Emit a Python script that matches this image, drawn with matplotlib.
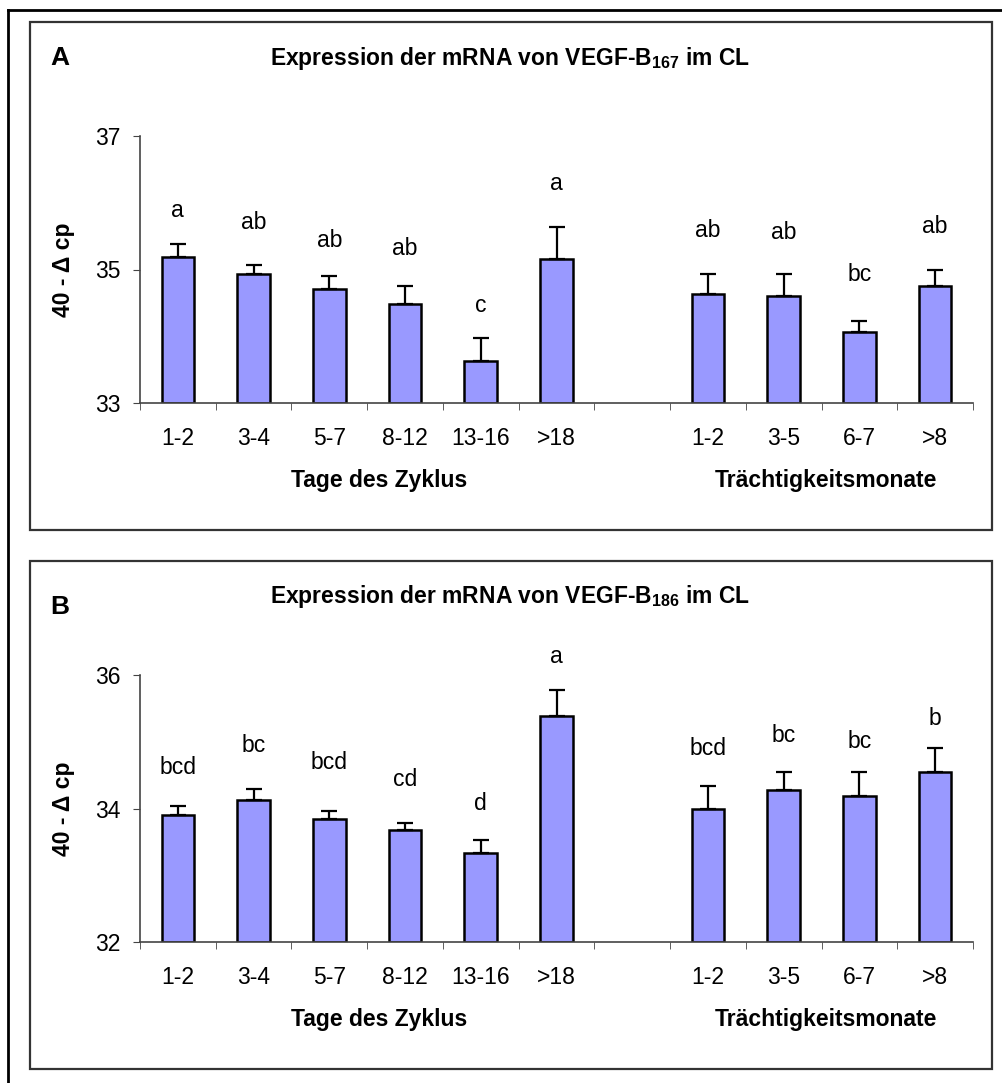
import numpy as np
import matplotlib
matplotlib.use("Agg")
import matplotlib.pyplot as plt
from matplotlib.lines import Line2D
from matplotlib.patches import Rectangle

plt.rcParams['font.family'] = ['Liberation Sans', 'DejaVu Sans']
plt.rcParams['mathtext.fontset'] = 'custom'
plt.rcParams['mathtext.rm'] = 'Liberation Sans'
plt.rcParams['mathtext.bf'] = 'Liberation Sans:bold'

# categories
cycle_days = ['1-2', '3-4', '5-7', '8-12', '13-16', '>18']
preg_months = ['1-2', '3-5', '6-7', '>8']

# panel A: VEGF-B167
a_cycle_mean = [35.19, 34.93, 34.71, 34.49, 33.63, 35.15]
a_cycle_err = [0.19, 0.13, 0.19, 0.26, 0.35, 0.48]
a_preg_mean = [34.64, 34.61, 34.07, 34.75]
a_preg_err = [0.29, 0.32, 0.16, 0.25]
a_letters = ['a', 'ab', 'ab', 'ab', 'c', 'a', 'ab', 'ab', 'bc', 'ab']
a_letter_y = [35.89, 35.71, 35.43, 35.31, 34.46, 36.29, 35.59, 35.55, 34.93, 35.64]

# panel B: VEGF-B186
b_cycle_mean = [33.90, 34.12, 33.84, 33.68, 33.34, 35.39]
b_cycle_err = [0.13, 0.17, 0.12, 0.10, 0.19, 0.39]
b_preg_mean = [33.99, 34.28, 34.19, 34.54]
b_preg_err = [0.35, 0.26, 0.35, 0.36]
b_letters = ['bcd', 'bc', 'bcd', 'cd', 'd', 'a', 'bcd', 'bc', 'bc', 'b']
b_letter_y = [34.61, 34.94, 34.69, 34.44, 34.08, 36.27, 34.90, 35.09, 35.00, 35.35]

W, H = 1003, 1083
fig = plt.figure(figsize=(W / 100, H / 100), dpi=100)

def px_axes(left, top, right, bottom):
    return fig.add_axes([left / W, 1 - bottom / H, (right - left) / W, (bottom - top) / H])

# frames
fig.add_artist(Line2D([8 / W, 8 / W], [0, 1 - 10 / H], color='black', lw=2, transform=fig.transFigure))
fig.add_artist(Line2D([8 / W, 1], [1 - 10 / H, 1 - 10 / H], color='black', lw=2, transform=fig.transFigure))
for top, bottom in [(22, 530), (561, 1069)]:
    fig.add_artist(Rectangle((30 / W, 1 - bottom / H), (992 - 30) / W, (bottom - top) / H,
                             transform=fig.transFigure, fill=False, ec='#333333', lw=1.6))

fs = 16.5
pos_cycle = np.arange(len(cycle_days))
pos_preg = np.arange(len(preg_months)) + len(cycle_days) + 1


def draw_panel(ax, cyc_m, cyc_e, pr_m, pr_e, letters, letter_y, ymin, ymax):
    pos = np.concatenate([pos_cycle, pos_preg])
    means = np.array(cyc_m + pr_m)
    errs = np.array(cyc_e + pr_e)
    ax.bar(pos, means - ymin, bottom=ymin, width=0.43, color='#9999FF', edgecolor='black', lw=1.8, zorder=2)
    ax.errorbar(pos, means, yerr=[np.zeros_like(errs), errs], fmt='none', ecolor='black',
                elinewidth=1.6, capsize=6, capthick=1.6, zorder=3)
    for x, t, y in zip(pos, letters, letter_y):
        ax.text(x, y, t, ha='center', va='center', fontsize=fs)
    ax.set_xlim(-0.5, 10.5)
    ax.set_ylim(ymin, ymax)
    ticks = [ymin, (ymin + ymax) / 2, ymax]
    ax.set_yticks(ticks)
    ax.set_yticklabels([str(int(v)) for v in ticks], fontsize=fs)
    ax.set_xticks(pos, cycle_days + preg_months, fontsize=fs)
    ax.set_xticks(np.arange(-0.5, 11, 1), minor=True)
    ax.tick_params(axis='x', which='major', length=0, pad=17)
    ax.tick_params(axis='x', which='minor', length=5, direction='out', color='#444444')
    ax.tick_params(axis='y', length=5, direction='out', pad=9, color='#444444')
    for s in ['top', 'right']:
        ax.spines[s].set_visible(False)
    for s in ['left', 'bottom']:
        ax.spines[s].set_color('#444444')
        ax.spines[s].set_linewidth(1.2)
    ax.set_ylabel('40 - \u0394 cp', fontsize=fs, fontweight='bold')
    ax.yaxis.set_label_coords(-0.078, 0.5)
    ax.text(2.66, -0.29, 'Tage des Zyklus', transform=ax.get_xaxis_transform(),
            ha='center', va='center', fontsize=fs, fontweight='bold')
    ax.text(8.56, -0.29, 'Trächtigkeitsmonate', transform=ax.get_xaxis_transform(),
            ha='center', va='center', fontsize=fs, fontweight='bold')


axA = px_axes(140, 136, 973, 403)
draw_panel(axA, a_cycle_mean, a_cycle_err, a_preg_mean, a_preg_err, a_letters, a_letter_y, 33, 37)
axB = px_axes(140, 675, 973, 942)
draw_panel(axB, b_cycle_mean, b_cycle_err, b_preg_mean, b_preg_err, b_letters, b_letter_y, 32, 36)

fig.text(60 / W, 1 - 58 / H, 'A', fontsize=19, fontweight='bold', ha='center', va='center')
fig.text(510 / W, 1 - 58 / H, 'Expression der mRNA von VEGF-B$_{\\mathbf{167}}$ im CL',
         fontsize=fs, fontweight='bold', ha='center', va='center')
fig.text(60 / W, 1 - 607 / H, 'B', fontsize=19, fontweight='bold', ha='center', va='center')
fig.text(510 / W, 1 - 597 / H, 'Expression der mRNA von VEGF-B$_{\\mathbf{186}}$ im CL',
         fontsize=fs, fontweight='bold', ha='center', va='center')

fig.savefig('out.png', dpi=100)
